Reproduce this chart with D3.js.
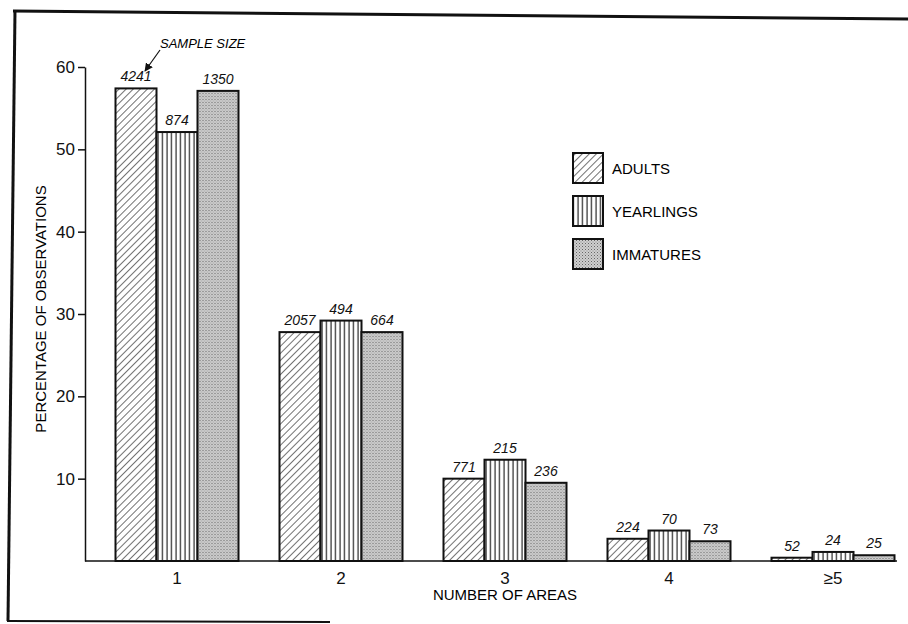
<!DOCTYPE html>
<html>
<head>
<meta charset="utf-8">
<script src="https://cdn.jsdelivr.net/npm/d3@7"></script>
<style>
  body { margin: 0; background: #fff; }
  svg { font-family: "Liberation Sans", "DejaVu Sans", sans-serif; }
  .tick text { font-size: 17px; fill: #111; }
  .count { font-size: 14px; font-style: italic; fill: #111; }
</style>
</head>
<body>
<script>
//data
let categories = ["1", "2", "3", "4", "\u22655"];
let seriesNames = ["ADULTS", "YEARLINGS", "IMMATURES"];
let adults = [57.4, 27.8, 10.0, 2.7, 0.4];
let yearlings = [52.1, 29.2, 12.3, 3.7, 1.1];
let immatures = [57.1, 27.8, 9.5, 2.4, 0.7];
let adultsN = [4241, 2057, 771, 224, 52];
let yearlingsN = [874, 494, 215, 70, 24];
let immaturesN = [1350, 664, 236, 73, 25];
let yTicks = [10, 20, 30, 40, 50, 60];

let values = [adults, yearlings, immatures];
let counts = [adultsN, yearlingsN, immaturesN];

let width = 908, height = 624;

const svg = d3.select("body").append("svg")
  .attr("width", width)
  .attr("height", height);

//patterns
let defs = svg.append("defs");

defs.append("pattern")
  .attr("id", "hatch")
  .attr("patternUnits", "userSpaceOnUse")
  .attr("width", 5).attr("height", 5)
  .attr("patternTransform", "rotate(45)")
  .append("line")
  .attr("x1", 0).attr("y1", 0).attr("x2", 0).attr("y2", 5)
  .attr("stroke", "#111").attr("stroke-width", 1.2);

let vert = defs.append("pattern")
  .attr("id", "vert")
  .attr("patternUnits", "userSpaceOnUse")
  .attr("width", 4.5).attr("height", 5);
vert.append("rect").attr("width", 4.5).attr("height", 5).attr("fill", "#fff");
vert.append("line")
  .attr("x1", 2).attr("y1", 0).attr("x2", 2).attr("y2", 5)
  .attr("stroke", "#111").attr("stroke-width", 1.1);

let dots = defs.append("pattern")
  .attr("id", "dots")
  .attr("patternUnits", "userSpaceOnUse")
  .attr("width", 3).attr("height", 3);
dots.append("rect").attr("width", 3).attr("height", 3).attr("fill", "#cfcfcf");
dots.append("rect").attr("x", 0).attr("y", 0).attr("width", 1).attr("height", 1).attr("fill", "#666");
dots.append("rect").attr("x", 1.5).attr("y", 1.5).attr("width", 1).attr("height", 1).attr("fill", "#888");

let fills = ["url(#hatch)", "url(#vert)", "url(#dots)"];

//scales
let x0 = d3.scaleBand()
  .domain(categories)
  .range([95, 915])
  .paddingInner(0.25)
  .paddingOuter(0.125);

let x1 = d3.scaleBand()
  .domain(seriesNames)
  .range([0, x0.bandwidth()]);

let y = d3.scaleLinear()
  .domain([0, 60])
  .range([561, 67]);

let axisX = 85;

//bars
let groups = svg.selectAll("g.group")
  .data(categories)
  .enter()
  .append("g")
  .attr("class", "group")
  .attr("transform", d => "translate(" + x0(d) + ",0)");

seriesNames.forEach((s, si) => {
  groups.append("rect")
    .attr("x", x1(s))
    .attr("y", (d, i) => y(values[si][i]))
    .attr("width", x1.bandwidth())
    .attr("height", (d, i) => y(0) - y(values[si][i]))
    .attr("fill", fills[si])
    .attr("stroke", "#111")
    .attr("stroke-width", 2);

  groups.append("text")
    .attr("class", "count")
    .attr("text-anchor", "middle")
    .attr("x", x1(s) + x1.bandwidth() / 2)
    .attr("y", (d, i) => y(values[si][i]) - 7)
    .text((d, i) => counts[si][i]);
});

//baseline
svg.append("line")
  .attr("x1", axisX).attr("x2", 897)
  .attr("y1", y(0)).attr("y2", y(0))
  .attr("stroke", "#111").attr("stroke-width", 1.6);

//y axis
let yAxis = d3.axisLeft(y)
  .tickValues(yTicks)
  .tickSize(7)
  .tickSizeOuter(0)
  .tickFormat(d3.format("d"));

let gy = svg.append("g")
  .attr("transform", "translate(" + axisX + ",0)")
  .call(yAxis);
gy.select(".domain").attr("stroke", "#111").attr("stroke-width", 1.5);
gy.selectAll(".tick line").attr("stroke", "#111").attr("stroke-width", 1.5);
gy.selectAll(".tick text").attr("x", -10);

//x axis labels
let xAxis = d3.axisBottom(x0).tickSize(0);
let gx = svg.append("g")
  .attr("transform", "translate(0," + y(0) + ")")
  .call(xAxis);
gx.select(".domain").remove();
gx.selectAll(".tick text").attr("dy", "1.15em");

//axis titles
svg.append("text")
  .attr("x", 505).attr("y", 600)
  .attr("text-anchor", "middle")
  .style("font-size", "15px")
  .text("NUMBER OF AREAS");

svg.append("text")
  .attr("transform", "rotate(-90)")
  .attr("x", -(y(0) + y(60)) / 2 + 5)
  .attr("y", 46)
  .attr("text-anchor", "middle")
  .style("font-size", "15px")
  .text("PERCENTAGE OF OBSERVATIONS");

//sample size note
svg.append("text")
  .attr("x", 160).attr("y", 48)
  .style("font-size", "13px")
  .style("font-style", "italic")
  .text("SAMPLE SIZE");

defs.append("marker")
  .attr("id", "arrow")
  .attr("viewBox", "0 0 10 10")
  .attr("refX", 9).attr("refY", 5)
  .attr("markerWidth", 7).attr("markerHeight", 7)
  .attr("orient", "auto")
  .append("path")
  .attr("d", "M0,0 L10,5 L0,10 z")
  .attr("fill", "#111");

svg.append("line")
  .attr("x1", 160).attr("y1", 50)
  .attr("x2", 145).attr("y2", 71)
  .attr("stroke", "#111").attr("stroke-width", 1.2)
  .attr("marker-end", "url(#arrow)");

//legend
let legend = svg.append("g").attr("class", "legend");
let legendY = d3.scalePoint()
  .domain(seriesNames)
  .range([153, 239]);

legend.selectAll("rect")
  .data(seriesNames)
  .enter()
  .append("rect")
  .attr("x", 573)
  .attr("y", d => legendY(d))
  .attr("width", 30)
  .attr("height", 30)
  .attr("fill", (d, i) => fills[i])
  .attr("stroke", "#111")
  .attr("stroke-width", 2);

legend.selectAll("text")
  .data(seriesNames)
  .enter()
  .append("text")
  .attr("x", 612)
  .attr("y", d => legendY(d) + 21)
  .style("font-size", "15px")
  .text(d => d);

//frame
let frame = svg.append("g")
  .attr("fill", "none")
  .attr("stroke", "#111")
  .attr("stroke-width", 3);
frame.append("line").attr("x1", 13).attr("y1", 11).attr("x2", 908).attr("y2", 19);
frame.append("line").attr("x1", 15).attr("y1", 10).attr("x2", 8).attr("y2", 621);
frame.append("line").attr("x1", 7).attr("y1", 621).attr("x2", 330).attr("y2", 622).attr("stroke-width", 2);
</script>
</body>
</html>
